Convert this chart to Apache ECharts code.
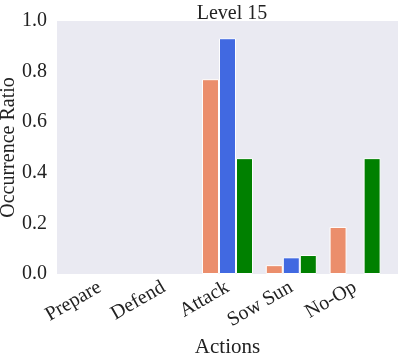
<!DOCTYPE html>
<html><head><meta charset="utf-8">
<script src="https://cdn.jsdelivr.net/npm/echarts@6/dist/echarts.min.js"></script>
<style>html,body{margin:0;padding:0;background:#fff}#c{width:399px;height:357px}</style>
</head><body><div id="c"></div>
<script>
const categories = ['Prepare', 'Defend', 'Attack', 'Sow Sun', 'No-Op'];
const seriesA = [0, 0, 0.77, 0.035, 0.186];
const seriesB = [0, 0, 0.932, 0.066, 0];
const seriesC = [0, 0, 0.458, 0.075, 0.458];
const yTicks = [0, 0.2, 0.4, 0.6, 0.8, 1.0];
const colors = ['#EB8E6C', '#4169E1', '#008000'];
const FONT = 'Liberation Serif';

const chart = echarts.init(document.getElementById('c'), null, {renderer: 'canvas'});
const mk = (name, data, i) => ({
  name, type: 'bar', xAxisIndex: 1, yAxisIndex: 1,
  data: data.map(v => v === 0 ? {value: 0, itemStyle: {borderWidth: 0}} : v),
  barGap: '0%', barCategoryGap: '20%',
  itemStyle: {color: colors[i], borderColor: '#ffffff', borderWidth: 1},
  emphasis: {disabled: true}
});
chart.setOption({
  animation: false,
  backgroundColor: '#ffffff',
  title: {text: 'Level 15', left: 227, top: -1, textAlign: 'center',
    textStyle: {fontFamily: FONT, fontSize: 20, fontWeight: 'normal', color: '#222'}},
  grid: [
    {left: 57, right: 1, top: 21, bottom: 83, show: true, backgroundColor: '#EAEAF2', borderWidth: 0,
      containLabel: false, outerBoundsMode: 'none'},
    {left: 68, right: 12, top: 21, bottom: 83, containLabel: false, outerBoundsMode: 'none'}
  ],
  xAxis: [
    {type: 'value', gridIndex: 0, show: false, min: 0, max: 1},
    {type: 'category', gridIndex: 1, data: categories,
      axisLine: {show: false}, axisTick: {show: false}, splitLine: {show: false},
      axisLabel: {rotate: 30, margin: 12, fontFamily: FONT, fontSize: 20, color: '#222'},
      name: 'Actions', nameLocation: 'middle', nameGap: 62,
      nameTextStyle: {fontFamily: FONT, fontSize: 21, color: '#222'}}
  ],
  yAxis: [
    {type: 'value', gridIndex: 0, min: 0, max: 1, interval: 0.2,
      axisLine: {show: false}, axisTick: {show: false}, splitLine: {show: false},
      axisLabel: {margin: 10, fontFamily: FONT, fontSize: 20, color: '#222',
        formatter: v => v.toFixed(1)},
      name: 'Occurrence Ratio', nameLocation: 'middle', nameGap: 38, nameMoveOverlap: false,
      nameTextStyle: {fontFamily: FONT, fontSize: 20, color: '#222'}},
    {type: 'value', gridIndex: 1, min: 0, max: 1, show: false}
  ],
  series: [mk('A', seriesA, 0), mk('B', seriesB, 1), mk('C', seriesC, 2)]
});
</script></body></html>
